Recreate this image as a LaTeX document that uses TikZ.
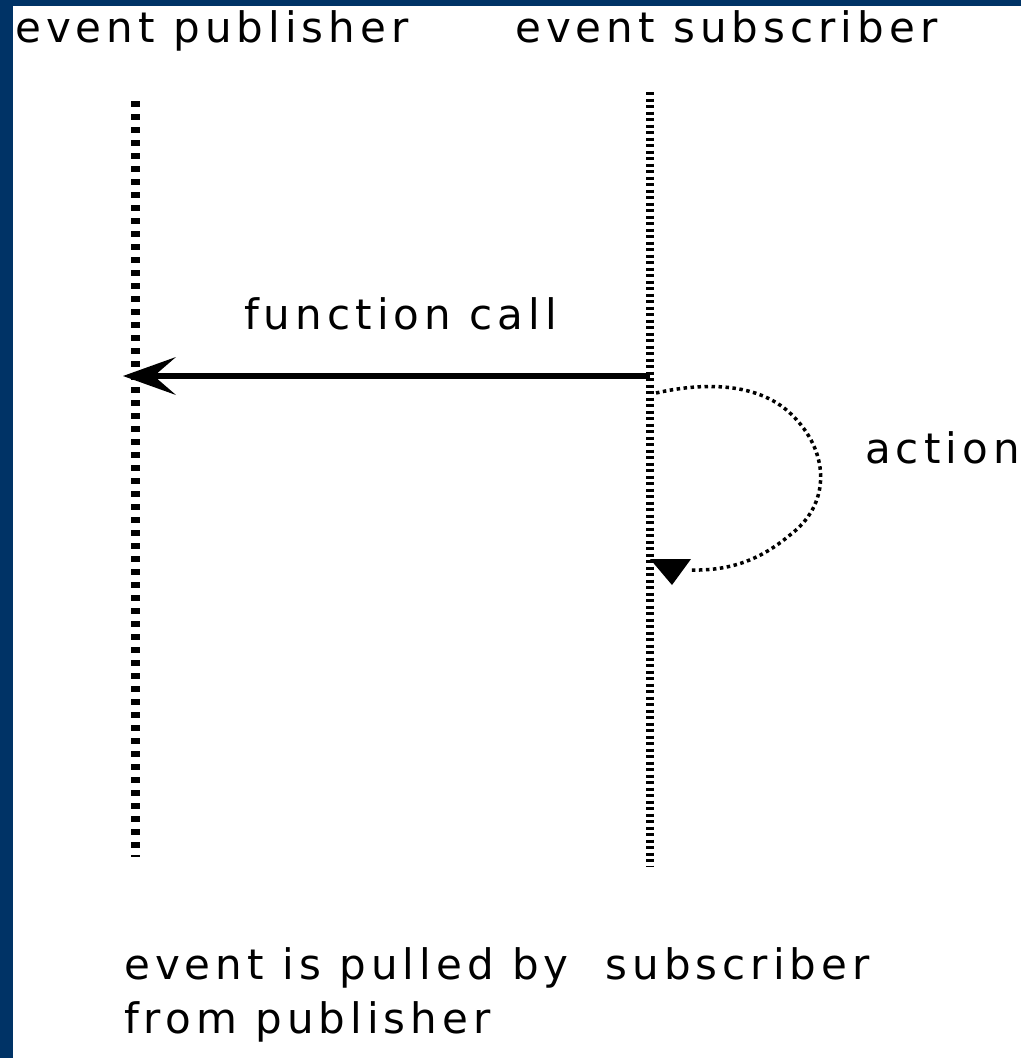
\documentclass[tikz,border=0pt]{standalone}
\usepackage{fontspec}
\setmainfont{DejaVu Sans}[LetterSpace=12]
\usetikzlibrary{arrows.meta}
\definecolor{frameblue}{RGB}{0,51,102}

\begin{document}
\begin{tikzpicture}[x=1pt,y=-1pt,
  txt/.style={anchor=base west,inner sep=0pt,font=\fontsize{42pt}{48pt}\selectfont},
  publine/.style={line width=9pt,dash pattern=on 6pt off 7pt},
  subline/.style={line width=8pt,dash pattern=on 3pt off 3.5pt},
  callarrow/.style={line width=6pt,-{Stealth[length=53pt,width=38pt,inset=22pt,line width=0pt]}},
  actionloop/.style={line width=3.5pt,dash pattern=on 3.5pt off 3.5pt}]
% canvas and frame
\useasboundingbox (0,0) rectangle (1021,1058);
\fill[white] (0,0) rectangle (1021,1058);
\fill[frameblue] (0,0) rectangle (13,1058);
\fill[frameblue] (0,0) rectangle (1021,6);

% headings
\node[txt] (pub) at (15,42) {event publisher};
\node[txt] (sub) at (515,42) {event subscriber};

% lifelines
\coordinate (pubtop) at (135,101);
\coordinate (pubbot) at (135,857);
\coordinate (subtop) at (650,92);
\coordinate (subbot) at (650,866);
\draw[publine] (pubtop) -- (pubbot);
\draw[subline] (subtop) -- (subbot);

% call from subscriber to publisher
\coordinate (callstart) at (650,376);
\coordinate (callend) at (123,376);
\draw[callarrow] (callstart) -- (callend);
\node[txt] (call) at (244,329) {function call};

% self action on the subscriber
\coordinate (loopstart) at (656,393);
\coordinate (loopend) at (690,570);
\draw[actionloop] (loopstart) .. controls (700,383) and (760,380) .. (795,418)
  .. controls (830,455) and (830,505) .. (790,535)
  .. controls (760,560) and (730,571) .. (loopend);
\fill (650,559) -- (691,559) -- (672,585) -- cycle;
\node[txt] (act) at (865,463) {action};

% note
\node[txt] (note1) at (124,979) {event is pulled by\ \ subscriber};
\node[txt] (note2) at (124,1033) {from publisher};
\end{tikzpicture}
\end{document}
